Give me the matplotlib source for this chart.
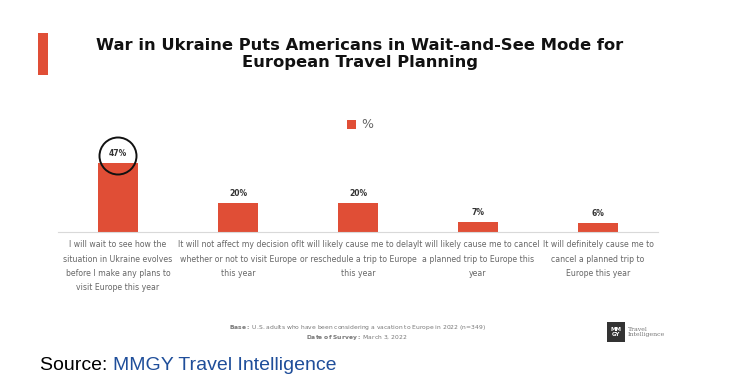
# War in Ukraine - MMGY Travel Intelligence survey chart

import matplotlib.pyplot as plt
from matplotlib.patches import Rectangle, Ellipse

# Data
categories = [
    "I will wait to see how the\nsituation in Ukraine evolves\nbefore I make any plans to\nvisit Europe this year",
    "It will not affect my decision of\nwhether or not to visit Europe\nthis year",
    "It will likely cause me to delay\nor reschedule a trip to Europe\nthis year",
    "It will likely cause me to cancel\na planned trip to Europe this\nyear",
    "It will definitely cause me to\ncancel a planned trip to\nEurope this year",
]
values = [47, 20, 20, 7, 6]
value_labels = ["47%", "20%", "20%", "7%", "6%"]

bar_color = "#E04E36"
W, H = 733, 380

fig = plt.figure(figsize=(7.33, 3.8), dpi=100)
fig.patch.set_facecolor("white")

# Title and accent bar
fig.add_artist(Rectangle((38 / W, 1 - 75 / H), 10 / W, 42 / H,
                         transform=fig.transFigure, color=bar_color, lw=0))
fig.text(360 / W, 1 - 45 / H, "War in Ukraine Puts Americans in Wait-and-See Mode for",
         ha="center", va="center", fontsize=11.8, fontweight="bold", color="#111111")
fig.text(360 / W, 1 - 63 / H, "European Travel Planning",
         ha="center", va="center", fontsize=11.8, fontweight="bold", color="#111111")

# Legend
fig.add_artist(Rectangle((347 / W, 1 - 129 / H), 9 / W, 9 / H,
                         transform=fig.transFigure, color=bar_color, lw=0))
fig.text(361 / W, 1 - 125 / H, "%", ha="left", va="center", fontsize=9, color="#666666")

# Bar chart
ax = fig.add_axes([58 / W, 1 - 232 / H, 600 / W, 75 / H])
x = range(len(values))
ax.bar(x, values, width=0.34, color=bar_color)
ax.set_xlim(-0.5, len(values) - 0.5)
ax.set_ylim(0, 51)
ax.set_yticks([])
ax.set_xticks(list(x))
ax.set_xticklabels(categories, fontsize=5.6, color="#666666", linespacing=1.75)
ax.tick_params(axis="x", length=0, pad=6)
for side in ["top", "left", "right"]:
    ax.spines[side].set_visible(False)
ax.spines["bottom"].set_color("#d9d9d9")
ax.set_facecolor("none")

for i, (v, lab) in enumerate(zip(values, value_labels)):
    ax.annotate(lab, (i, v), xytext=(0, 3.5), textcoords="offset points",
                ha="center", va="bottom", fontsize=5.5, fontweight="bold",
                color="#333333", annotation_clip=False)

# circle around the top value label
fig.add_artist(Ellipse((118 / W, 1 - 156 / H), 37 / W, 37 / H, transform=fig.transFigure,
                       fill=False, ec="#111111", lw=1.4))

# Footnote
fig.text(357 / W, 1 - 328 / H,
         r"$\bf{Base:}$ U.S. adults who have been considering a vacation to Europe in 2022 (n=349)",
         ha="center", va="center", fontsize=4.3, color="#777777")
fig.text(357 / W, 1 - 337 / H, r"$\bf{Date\ of\ Survey:}$ March 3, 2022",
         ha="center", va="center", fontsize=4.3, color="#777777")

# Logo
fig.add_artist(Rectangle((607 / W, 1 - 342 / H), 18 / W, 20 / H,
                         transform=fig.transFigure, color="#333333", lw=0))
fig.text(616 / W, 1 - 332 / H, "MM\nGY", ha="center", va="center", fontsize=4,
         fontweight="bold", color="white", linespacing=1.0)
fig.text(628 / W, 1 - 332 / H, "Travel\nIntelligence", ha="left", va="center",
         fontsize=4.5, color="#777777", family="DejaVu Serif", linespacing=1.1)

# Source line
src = fig.text(40 / W, 1 - 366 / H, "Source: ", ha="left", va="center",
               fontsize=14, color="black", family="Liberation Sans")
fig.canvas.draw()
bb = src.get_window_extent()
fig.text(bb.x1 / W, 1 - 366 / H, "MMGY Travel Intelligence", ha="left", va="center",
         fontsize=14, color="#1F4E9A", family="Liberation Sans")

plt.savefig("out.png", dpi=100)
